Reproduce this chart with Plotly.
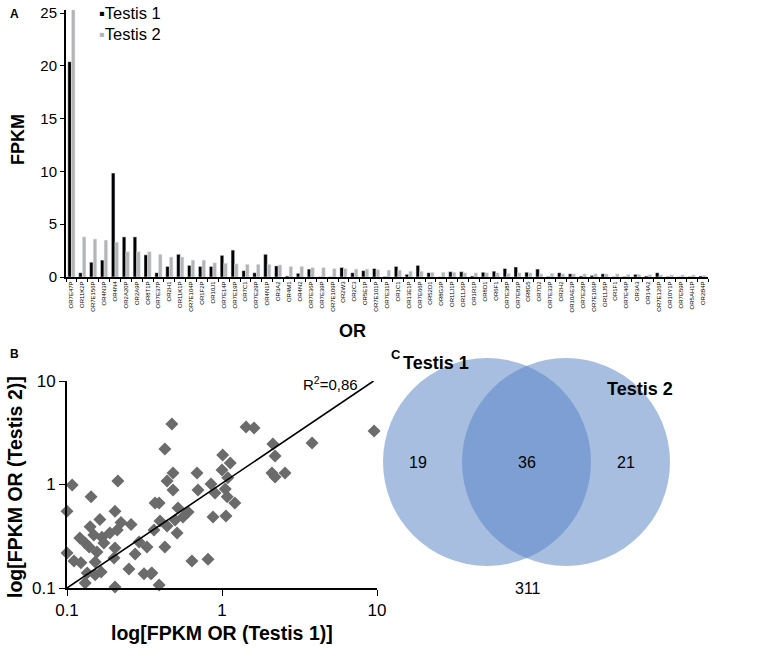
import plotly.graph_objects as go

# ---- panel A: FPKM per OR gene ----
genes = ['OR7E47P', 'OR11K2P', 'OR7E156P', 'OR4N3P', 'OR4N4', 'OR2A20P', 'OR2A9P', 'OR8T1P',
         'OR7E37P', 'OR2H1', 'OR11K1P', 'OR7E104P', 'OR1F2P', 'OR10J1', 'OR7E14P', 'OR7E19P',
         'OR7C1', 'OR7E29P', 'OR4N1P', 'OR3A2', 'OR4M1', 'OR4N2', 'OR7E36P', 'OR7E39P',
         'OR7E109P', 'OR2W3', 'OR2C3', 'OR5E1P', 'OR7E101P', 'OR7E31P', 'OR1C1', 'OR13E1P',
         'OR7E66P', 'OR52D1', 'OR8G3P', 'OR11J1P', 'OR11J6P', 'OR1R1P', 'OR8D1', 'OR6F1',
         'OR7E38P', 'OR7E83P', 'OR8G5', 'OR7D2', 'OR7E33P', 'OR2H2', 'OR10AE3P', 'OR7E28P',
         'OR7E106P', 'OR11J5P', 'OR1F1', 'OR7E46P', 'OR3A3', 'OR14A2', 'OR7E126P', 'OR10Y1P',
         'OR7E59P', 'OR5AH1P', 'OR2B4P']

testis1 = [20.4, 0.4, 1.4, 1.6, 9.85, 3.8, 3.8, 2.1, 0.4, 1.0,
           2.15, 1.1, 1.0, 1.0, 2.05, 2.55, 0.6, 0.4, 2.15, 1.05,
           0.1, 0.35, 0.75, 0.02, 0.02, 0.9, 0.4, 0.6, 0.8, 0.05,
           1.0, 0.25, 1.1, 0.4, 0.02, 0.5, 0.5, 0.1, 0.45, 0.55,
           0.8, 0.95, 0.45, 0.75, 0.05, 0.4, 0.3, 0.1, 0.15, 0.3,
           0.02, 0.05, 0.25, 0.1, 0.4, 0.05, 0.02, 0.05, 0.1]

testis2 = [25.4, 3.8, 3.6, 3.5, 3.3, 2.4, 2.4, 2.4, 2.15, 1.9,
           1.9, 1.6, 1.6, 1.35, 1.3, 1.25, 1.2, 1.2, 1.2, 1.15,
           1.0, 1.0, 0.9, 0.9, 0.8, 0.8, 0.75, 0.75, 0.7, 0.65,
           0.65, 0.55, 0.55, 0.45, 0.45, 0.45, 0.4, 0.4, 0.4, 0.4,
           0.35, 0.4, 0.4, 0.3, 0.35, 0.3, 0.3, 0.3, 0.3, 0.3,
           0.3, 0.25, 0.25, 0.22, 0.2, 0.2, 0.2, 0.2, 0.15]

fpkm_ticks = [0, 5, 10, 15, 20, 25]

# ---- panel B: testis 1 vs testis 2 (log-log) ----
scatter_t1 = [0.108, 0.213, 0.143, 0.10, 0.204, 0.163, 0.223, 0.141, 0.259, 0.149,
              0.168, 0.189, 0.211, 0.131, 0.173, 0.292, 0.139, 0.204, 0.328, 0.10,
              0.156, 0.275, 0.111, 0.123, 0.152, 0.201, 0.135, 0.166, 0.251, 0.152,
              0.314, 0.348, 0.131, 0.204, 0.370, 0.364, 0.428, 0.483, 0.442, 0.483,
              0.690, 0.700, 0.849, 0.901, 1.01, 1.13, 1.0, 1.09, 1.05, 1.08,
              1.21, 0.393, 0.520, 0.604, 0.560, 0.498, 0.398, 0.442, 0.513, 0.875,
              1.06, 0.428, 0.640, 0.812, 0.353, 0.393, 1.43, 1.61, 2.13, 3.81,
              2.20, 2.10, 2.55, 9.57, 0.475, 2.20, 0.121]
scatter_t2 = [0.99, 1.08, 0.76, 0.55, 0.55, 0.46, 0.43, 0.39, 0.41, 0.325,
              0.31, 0.34, 0.363, 0.272, 0.272, 0.278, 0.249, 0.244, 0.249, 0.218,
              0.223, 0.213, 0.182, 0.175, 0.178, 0.195, 0.140, 0.143, 0.153, 0.134,
              0.137, 0.137, 0.112, 0.102, 0.662, 0.363, 2.20, 1.29, 1.08, 0.885,
              1.29, 0.885, 1.01, 0.83, 1.93, 1.61, 1.38, 1.16, 0.905, 0.76,
              0.662, 0.662, 0.593, 0.542, 0.485, 0.454, 0.444, 0.397, 0.34, 0.485,
              0.497, 0.249, 0.182, 0.19, 0.140, 0.107, 3.60, 3.51, 2.46, 2.52,
              1.88, 1.29, 1.29, 3.29, 3.85, 1.18, 0.304]
fit_x = [0.1, 9.5]
fit_y = [0.1, 10]
r_squared = '0,86'
log_ticks = [0.1, 1, 10]

# ---- panel C: venn counts ----
only_t1 = 19
shared = 36
only_t2 = 21
outside = 311

FONT = 'Arial, Liberation Sans, sans-serif'
W, H = 773, 648
GREY_BAR = '#b4b4b4'


def px(x):
    return x / W


def py(y):
    return 1 - y / H


fig = go.Figure()

fig.add_trace(go.Bar(x=genes, y=testis1, name='Testis 1', marker_color='black',
                     showlegend=False, xaxis='x', yaxis='y'))
fig.add_trace(go.Bar(x=genes, y=testis2, name='Testis 2', marker_color=GREY_BAR,
                     showlegend=False, xaxis='x', yaxis='y'))

fig.add_trace(go.Scatter(x=scatter_t1, y=scatter_t2, mode='markers', showlegend=False,
                         marker=dict(symbol='diamond', size=10, color='#6b6b6b'),
                         cliponaxis=False, xaxis='x2', yaxis='y2'))
fig.add_trace(go.Scatter(x=fit_x, y=fit_y, mode='lines', showlegend=False,
                         line=dict(color='black', width=1.6), xaxis='x2', yaxis='y2'))

# venn circles
venn_fill = 'rgba(88,133,199,0.53)'
shapes = [
    dict(type='circle', xref='x3', yref='y3', x0=-1.04, x1=1.04, y0=-1.04, y1=1.04,
         fillcolor=venn_fill, line_width=0, layer='below'),
    dict(type='circle', xref='x3', yref='y3', x0=0.79 - 1.04, x1=0.79 + 1.04, y0=-1.04, y1=1.04,
         fillcolor=venn_fill, line_width=0, layer='below'),
]

legend_text = ("<span style='color:black'>\u25aa</span>Testis 1<br>"
               f"<span style='color:{GREY_BAR}'>\u25aa</span>Testis 2")

annotations = [
    dict(text='<b>A</b>', x=px(8), y=py(5), font=dict(size=12)),
    dict(text='<b>B</b>', x=px(8), y=py(345), font=dict(size=12)),
    dict(text='<b>C</b>', x=px(389), y=py(345), font=dict(size=13)),
    dict(text='<b>OR</b>', x=px(352), y=py(331), xanchor='center', yanchor='middle',
         font=dict(size=18)),
    dict(text='<b>FPKM</b>', x=px(18), y=py(140), xanchor='center', yanchor='middle',
         textangle=-90, font=dict(size=18)),
    dict(text='<b>log[FPKM OR (Testis 1)]</b>', x=px(222), y=py(633), xanchor='center',
         yanchor='middle', font=dict(size=19.5)),
    dict(text='<b>log[FPKM OR (Testis 2)]</b>', x=px(15), y=py(487), xanchor='center',
         yanchor='middle', textangle=-90, font=dict(size=19.5)),
    dict(text='R<sup>2</sup>=' + r_squared, x=px(330), y=py(383), xanchor='center',
         yanchor='middle', font=dict(size=15)),
    # legend
    dict(text=legend_text, x=px(97), y=py(2), xanchor='left', yanchor='top', align='left',
         font=dict(size=16.5)),
]
for a in annotations:
    a.update(xref='paper', yref='paper', showarrow=False)
    a.setdefault('xanchor', 'left')
    a.setdefault('yanchor', 'top')

venn_text = [
    (str(only_t1), -0.69, 0.0, False),
    (str(shared), 0.40, 0.0, False),
    (str(only_t2), 1.39, 0.0, False),
    (str(outside), 0.41, -1.26, False),
    ('Testis 1', -0.51, 0.99, True),
    ('Testis 2', 1.53, 0.73, True),
]
for t, x, y, bold in venn_text:
    annotations.append(dict(text=f'<b>{t}</b>' if bold else t, x=x, y=y, xref='x3', yref='y3',
                            showarrow=False, font=dict(size=18 if bold else 16)))

axis_line = dict(showline=True, linecolor='black', linewidth=2, showgrid=False,
                 zeroline=False, ticks='outside', tickcolor='black', mirror=False,
                 automargin=False)

fig.update_layout(
    width=W, height=H,
    margin=dict(l=0, r=0, t=0, b=0, pad=0),
    paper_bgcolor='white', plot_bgcolor='rgba(0,0,0,0)',
    font=dict(family=FONT, color='black'),
    barmode='group', bargap=0.34, bargroupgap=0,
    showlegend=False,
    xaxis=dict(domain=[px(66), px(708)], anchor='y', tickangle=-90, tickson='boundaries',
               ticklen=3, tickfont=dict(size=6), **axis_line),
    yaxis=dict(domain=[py(277), py(10)], anchor='x', range=[0, 25.3], tickvals=fpkm_ticks,
               ticklen=4, tickfont=dict(size=15), **axis_line),
    xaxis2=dict(domain=[px(67), px(377)], anchor='y2', type='log', range=[-1, 1],
                tickvals=log_ticks, ticktext=['0.1', '1', '10'], ticklen=6,
                tickfont=dict(size=17), **axis_line),
    yaxis2=dict(domain=[py(588), py(381)], anchor='x2', type='log', range=[-1, 1],
                tickvals=log_ticks, ticktext=['0.1', '1', '10'], ticklen=6,
                tickfont=dict(size=17), **axis_line),
    xaxis3=dict(domain=[px(370), px(690)], anchor='y3', range=[-1.17, 2.03], visible=False,
                automargin=False),
    yaxis3=dict(domain=[py(600), py(340)], anchor='x3', range=[-1.38, 1.22], visible=False,
                automargin=False),
    shapes=shapes,
    annotations=annotations,
)

# the page's default 8px body margin would push the fixed-size figure off the window
fig.write_html('out.html', config={'displayModeBar': False},
               post_script="document.body.style.margin='0px';")
